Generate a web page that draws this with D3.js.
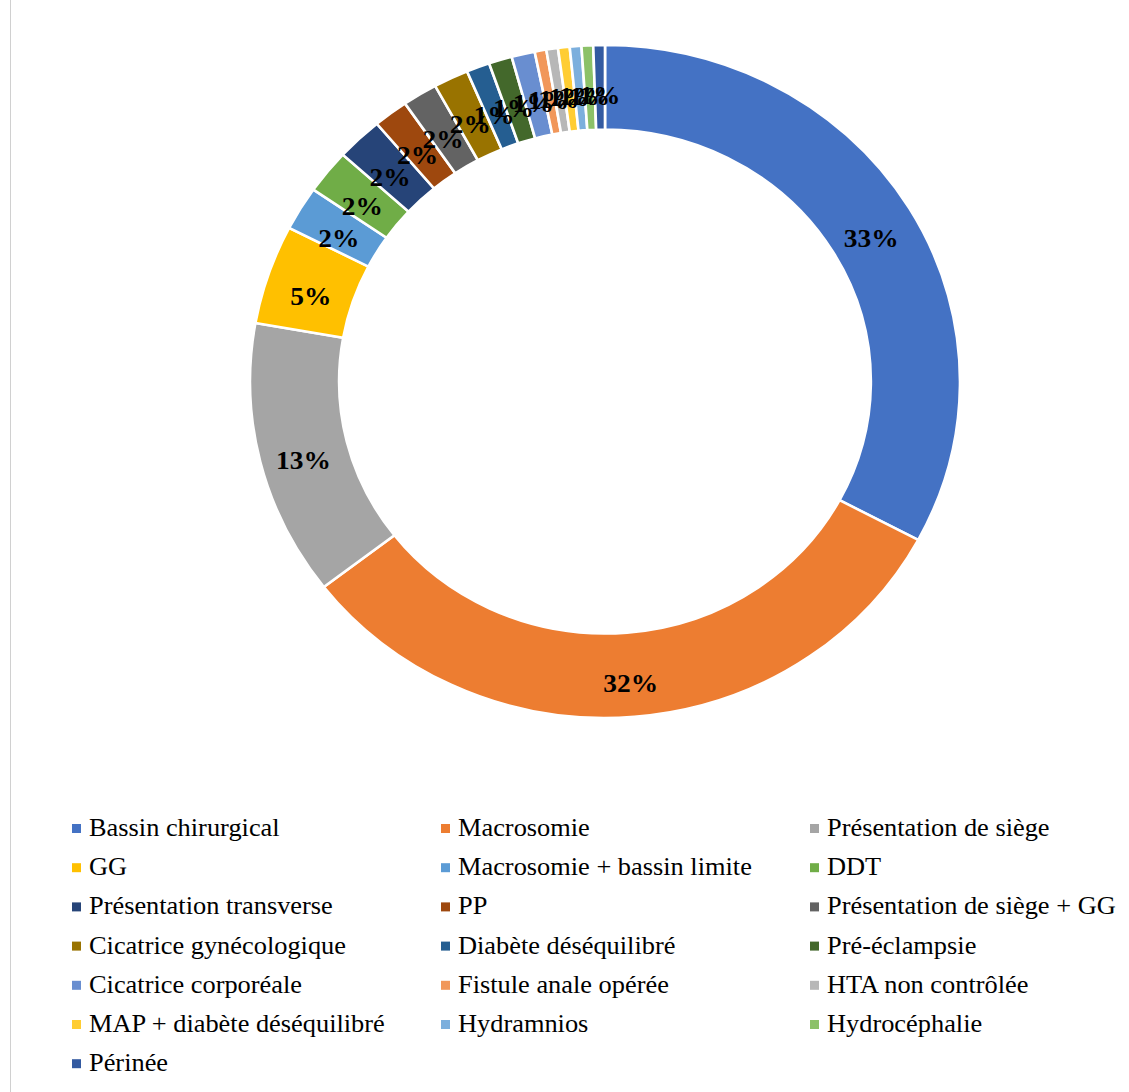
<!DOCTYPE html>
<html>
<head>
<meta charset="utf-8">
<script src="https://cdn.jsdelivr.net/npm/d3@7"></script>
<style>
  html, body { margin: 0; padding: 0; background: #fff; }
  svg { display: block; }
</style>
</head>
<body>
<svg id="chart" width="1129" height="1092"></svg>
<script>
// Indications of caesarean section (counts per indication)
const categories = [
  "Bassin chirurgical", "Macrosomie", "Présentation de siège",
  "GG", "Macrosomie + bassin limite", "DDT",
  "Présentation transverse", "PP", "Présentation de siège + GG",
  "Cicatrice gynécologique", "Diabète déséquilibré", "Pré-éclampsie",
  "Cicatrice corporéale", "Fistule anale opérée", "HTA non contrôlée",
  "MAP + diabète déséquilibré", "Hydramnios", "Hydrocéphalie",
  "Périnée"
];
const counts = [62, 60, 25, 9, 4, 4, 4, 3, 3, 3, 2, 2, 2, 1, 1, 1, 1, 1, 1];
const colors = [
  "#4472C4", "#ED7D31", "#A5A5A5", "#FFC000", "#5B9BD5", "#70AD47",
  "#264478", "#9E480E", "#636363", "#997300", "#255E91", "#43682B",
  "#698ED0", "#F1975A", "#B7B7B7", "#FFCD33", "#7CAFDD", "#8CC168",
  "#335AA1"
];

const FONT = '"Liberation Serif", "Times New Roman", serif';
const W = 1129, H = 1092;
const SX = 1.055;            // horizontal stretch of the whole figure
const cx = 605, cy = 381.5;  // ring centre (page pixels)
const rOuter = 336.5, rInner = 252;

const svg = d3.select("#chart");

// thin frame line on the left edge
svg.append("line")
  .attr("x1", 10.5).attr("x2", 10.5)
  .attr("y1", 0).attr("y2", H)
  .attr("stroke", "#d0d0d0").attr("stroke-width", 1);

const root = svg.append("g").attr("transform", `scale(${SX},1)`);

const total = d3.sum(counts);
const data = categories.map((c, i) => ({ name: c, value: counts[i], color: colors[i] }));

const pie = d3.pie().value(d => d.value).sort(null).startAngle(0).endAngle(2 * Math.PI);
const arc = d3.arc().innerRadius(rInner).outerRadius(rOuter);
const labelArc = d3.arc().innerRadius((rInner + rOuter) / 2).outerRadius((rInner + rOuter) / 2);

const ring = root.append("g").attr("transform", `translate(${cx / SX},${cy})`);
const arcs = pie(data);

ring.selectAll("path.slice")
  .data(arcs)
  .join("path")
  .attr("class", "slice")
  .attr("d", arc)
  .attr("fill", d => d.data.color)
  .attr("stroke", "#fff")
  .attr("stroke-width", 2.5)
  .attr("stroke-linejoin", "miter");

const fmt = d3.format(".0%");
ring.selectAll("text.lbl")
  .data(arcs)
  .join("text")
  .attr("class", "lbl")
  .attr("transform", d => {
    const [x, y] = labelArc.centroid(d);
    return `translate(${x},${y + 8})`;
  })
  .attr("text-anchor", "middle")
  .attr("dy", "0.35em")
  .style("font-family", FONT)
  .style("font-weight", "bold")
  .style("font-size", "26px")
  .attr("fill", "#000")
  .text(d => fmt(d.data.value / total));

// legend: three columns, row-major
const legendCols = [72, 441, 810];
const legendTop = 836, rowStep = 39.2, box = 9;
const legend = root.append("g");
const items = legend.selectAll("g.item")
  .data(data)
  .join("g")
  .attr("class", "item")
  .attr("transform", (d, i) => {
    const col = i % 3, row = Math.floor(i / 3);
    return `translate(${legendCols[col] / SX},${legendTop + row * rowStep})`;
  });
items.append("rect")
  .attr("x", 0).attr("y", -12)
  .attr("width", box / SX).attr("height", box)
  .attr("fill", d => d.color);
items.append("text")
  .attr("x", 17 / SX)
  .attr("y", 0)
  .style("font-family", FONT)
  .style("font-size", "25px")
  .attr("fill", "#000")
  .text(d => d.name);
</script>
</body>
</html>
